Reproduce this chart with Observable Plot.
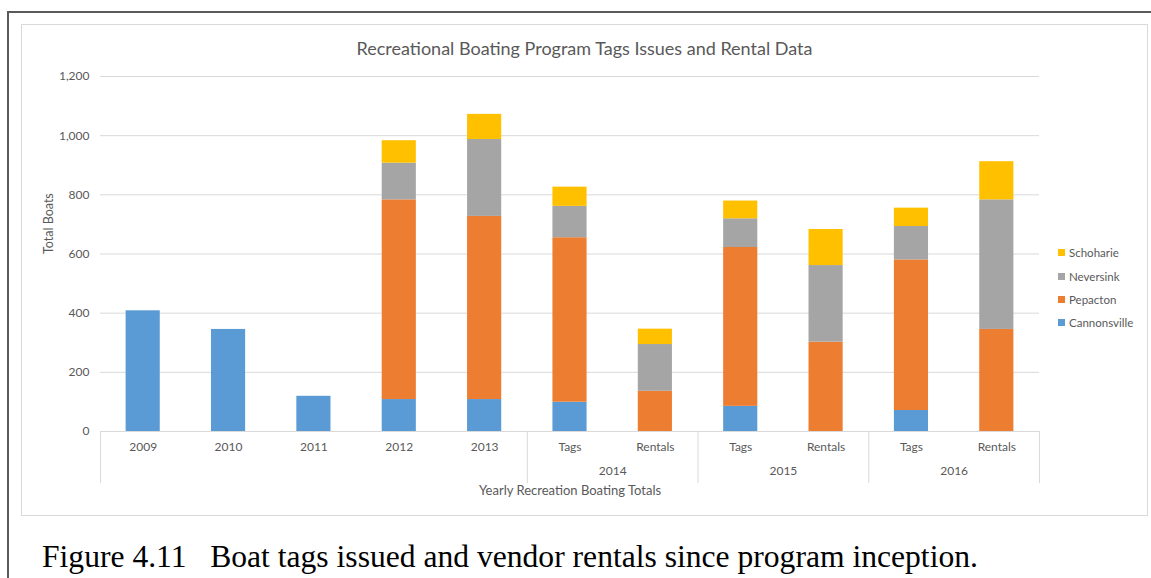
<!DOCTYPE html>
<html>
<head>
<meta charset="utf-8">
<script src="https://cdn.jsdelivr.net/npm/d3@7"></script>
<script src="https://cdn.jsdelivr.net/npm/@observablehq/plot@0.6"></script>
<style>
  html, body { margin: 0; padding: 0; background: #fff; }
  #wrap { position: relative; width: 1151px; height: 578px; overflow: hidden; font-family: Lato, "Open Sans", sans-serif; }
  .abs { position: absolute; }
  #chart svg { position: absolute; left: 0; top: 0; overflow: visible; }
  #title { left: 21px; width: 1127px; top: 37px; text-align: center; font-size: 18px; color: #595959; line-height: 22px; }
  #legend { left: 1058px; top: 241px; font-size: 11.5px; color: #595959; }
  #legend .item { height: 23.4px; display: flex; align-items: center; }
  #legend .sw { width: 7px; height: 7px; margin-right: 4px; }
  #caption { left: 42px; top: 539px; font-family: "Liberation Serif", "Times New Roman", serif; font-size: 31.6px; color: #000; white-space: pre; line-height: 36px; }
</style>
</head>
<body>
<div id="wrap">
  <div class="abs" style="left:8px;top:11px;width:1143px;height:2px;background:#5a5a5a;"></div>
  <div class="abs" style="left:7px;top:11px;width:2px;height:567px;background:#5a5a5a;"></div>
  <div class="abs" style="left:21px;top:24px;width:1125px;height:490px;border:1px solid #d9d9d9;"></div>
  <div id="chart"></div>
  <div id="title" class="abs"></div>
  <div id="legend" class="abs"></div>
  <div id="caption" class="abs"></div>
</div>
<script>
const titleText = "Recreational Boating Program Tags Issues and Rental Data";
const yLabel = "Total Boats";
const xLabel = "Yearly Recreation Boating Totals";
const captionText = "Figure 4.11   Boat tags issued and vendor rentals since program inception.";

const categories = ["2009", "2010", "2011", "2012", "2013", "Tags", "Rentals", "Tags", "Rentals", "Tags", "Rentals"];
const groups     = ["", "", "", "", "", "2014", "2014", "2015", "2015", "2016", "2016"];

const seriesNames = ["Cannonsville", "Pepacton", "Neversink", "Schoharie"];
const seriesColors = ["#5B9BD5", "#ED7D31", "#A5A5A5", "#FFC000"];

const cannonsville = [408, 345, 119, 108, 108, 99, 0, 85, 0, 71, 0];
const pepacton     = [0, 0, 0, 675, 619, 556, 136, 537, 302, 509, 345];
const neversink    = [0, 0, 0, 124, 260, 106, 158, 97, 259, 113, 438];
const schoharie    = [0, 0, 0, 76, 85, 65, 52, 60, 122, 62, 129];

const yTicks = [0, 200, 400, 600, 800, 1000, 1200];

const seriesValues = [cannonsville, pepacton, neversink, schoharie];
const data = [];
seriesNames.forEach((s, k) => {
  seriesValues[k].forEach((v, i) => data.push({i, series: s, value: v}));
});

// group spans and boundaries
const groupSpans = [];
groups.forEach((g, i) => {
  const last = groupSpans[groupSpans.length - 1];
  if (last && last.name === g) last.end = i; else groupSpans.push({name: g, start: i, end: i});
});
const boundaries = [groupSpans[0].start - 0.5, ...groupSpans.map(g => g.end + 0.5)];
const groupLabels = groupSpans.filter(g => g.name !== "").map(g => ({name: g.name, x: (g.start + g.end) / 2}));

const W = 1151, H = 520;
const mL = 100, mR = 112, mT = 76, mB = 89;
const half = 0.2;

const plot = Plot.plot({
  width: W,
  height: H,
  marginLeft: mL,
  marginRight: mR,
  marginTop: mT,
  marginBottom: mB,
  style: {fontFamily: "Lato, 'Open Sans', sans-serif", fontSize: "12px", color: "#595959", background: "transparent"},
  x: {type: "linear", domain: [-0.5, categories.length - 0.5], axis: null},
  y: {domain: [0, 1200], axis: null},
  color: {domain: seriesNames, range: seriesColors},
  marks: [
    Plot.gridY(yTicks, {stroke: "#d9d9d9", strokeOpacity: 1}),
    Plot.axisY(yTicks, {tickSize: 0, tickPadding: 11, tickFormat: d3.format(","), fill: "#595959", fontSize: 12, label: null}),
    Plot.rectY(data, Plot.stackY({
      x1: d => d.i - half,
      x2: d => d.i + half,
      y: "value",
      fill: "series",
      order: null
    })),
    Plot.ruleY([0], {stroke: "#d9d9d9"}),
    Plot.axisX(boundaries, {tickSize: 52, tickFormat: () => "", stroke: "#d9d9d9", strokeOpacity: 1, label: null}),
    Plot.text(categories, {x: (d, i) => i, text: d => d, frameAnchor: "bottom", dy: 19, fill: "#595959", fontSize: 12}),
    Plot.text(groupLabels, {x: "x", text: "name", frameAnchor: "bottom", dy: 43, fill: "#595959", fontSize: 12}),
    Plot.text([xLabel], {frameAnchor: "bottom", dy: 63, fill: "#595959", fontSize: 13}),
    Plot.text([yLabel], {frameAnchor: "left", dx: -52, rotate: -90, fill: "#595959", fontSize: 12.5})
  ]
});
document.getElementById("chart").appendChild(plot);

document.getElementById("title").textContent = titleText;
document.getElementById("caption").textContent = captionText;

const legend = document.getElementById("legend");
seriesNames.slice().reverse().forEach(name => {
  const item = document.createElement("div");
  item.className = "item";
  const sw = document.createElement("div");
  sw.className = "sw";
  sw.style.background = seriesColors[seriesNames.indexOf(name)];
  const t = document.createElement("span");
  t.textContent = name;
  item.appendChild(sw);
  item.appendChild(t);
  legend.appendChild(item);
});
</script>
</body>
</html>
